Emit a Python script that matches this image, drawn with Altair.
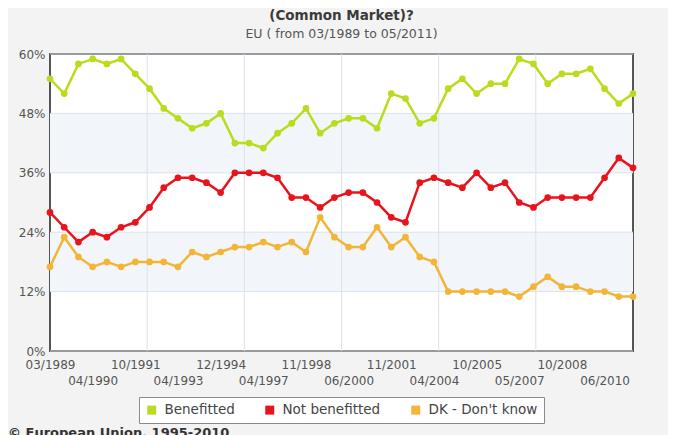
import altair as alt
import pandas as pd

# ---------------- data ----------------
title_line1 = "on balance benefitted or not from being a member of the European Community"
title_line2 = "(Common Market)?"
subtitle = "EU ( from 03/1989 to 05/2011)"
footer = "© European Union, 1995-2010"

dates = [
    "03/1989", "10/1989", "11/1989", "04/1990", "10/1990", "04/1991",
    "10/1991", "04/1992", "10/1992", "04/1993", "11/1993", "04/1994",
    "12/1994", "10/1995", "10/1996", "04/1997", "10/1997", "04/1998",
    "11/1998", "04/1999", "11/1999", "06/2000", "11/2000", "04/2001",
    "11/2001", "10/2002", "10/2003", "04/2004", "11/2004", "05/2005",
    "10/2005", "04/2006", "10/2006", "05/2007", "10/2007", "04/2008",
    "10/2008", "06/2009", "11/2009", "06/2010", "11/2010", "05/2011",
]
benefitted = [55, 52, 58, 59, 58, 59, 56, 53, 49, 47, 45, 46, 48, 42, 42, 41,
              44, 46, 49, 44, 46, 47, 47, 45, 52, 51, 46, 47, 53, 55, 52, 54,
              54, 59, 58, 54, 56, 56, 57, 53, 50, 52]
not_benefitted = [28, 25, 22, 24, 23, 25, 26, 29, 33, 35, 35, 34, 32, 36, 36, 36,
                  35, 31, 31, 29, 31, 32, 32, 30, 27, 26, 34, 35, 34, 33, 36, 33,
                  34, 30, 29, 31, 31, 31, 31, 35, 39, 37]
dont_know = [17, 23, 19, 17, 18, 17, 18, 18, 18, 17, 20, 19, 20, 21, 21, 22,
             21, 22, 20, 27, 23, 21, 21, 25, 21, 23, 19, 18, 12, 12, 12, 12,
             12, 11, 13, 15, 13, 13, 12, 12, 11, 11]

series_names = ["Benefitted", "Not benefitted", "DK - Don't know"]
series_colors = ["#b9dc1c", "#e8131b", "#f3b537"]
y_ticks = [0, 12, 24, 36, 48, 60]
band_lo = [12, 36]
band_hi = [24, 48]

# ---------------- tables ----------------
rows = []
for i, d in enumerate(dates):
    for name, vals in zip(series_names, [benefitted, not_benefitted, dont_know]):
        rows.append({"i": i, "date": d, "series": name, "value": vals[i]})
df = pd.DataFrame(rows)

n = len(dates)
xgrid_df = pd.DataFrame({"i": [(n - 1) * k / 6 for k in range(1, 6)]})
ygrid_df = pd.DataFrame({"value": y_ticks})
band_df = pd.DataFrame({"value": band_lo, "hi": band_hi})

FONT = "DejaVu Sans"
W, H = 583, 297

xscale = alt.Scale(domain=[0, n - 1], nice=False, zero=False)
yscale = alt.Scale(domain=[0, 60], nice=False)

lookup = "[" + ",".join("'" + d + "'" for d in dates) + "]"
label_expr = (f"datum.value % 6 == 0 ? {lookup}[datum.value] : "
              f"['', {lookup}[datum.value]]")

xaxis = alt.Axis(values=list(range(0, n, 3)), labelExpr=label_expr, grid=False,
                 ticks=False, domain=False, labelFontSize=12, labelColor="#555555",
                 labelFont=FONT, labelPadding=8, labelLineHeight=16,
                 labelOverlap=False, labelFlush=False, title=None)
yaxis = alt.Axis(values=y_ticks, labelExpr="datum.value + '%'", grid=False,
                 ticks=False, domain=False, labelFontSize=12, labelColor="#555555",
                 labelFont=FONT, labelPadding=5, title=None)

X = alt.X("i:Q", scale=xscale, axis=xaxis)
Y = alt.Y("value:Q", scale=yscale, axis=yaxis)

color_scale = alt.Scale(domain=series_names, range=series_colors)
legend = alt.Legend(orient="none", legendX=89, legendY=343,
                    direction="horizontal", title=None,
                    symbolType="square", symbolSize=81,
                    symbolStrokeWidth=0, symbolOpacity=1, labelFontSize=13.5,
                    labelColor="#444444", labelFont=FONT,
                    strokeColor="#8a8a8a", fillColor="white",
                    padding=6, columnPadding=28, labelOffset=6,
                    cornerRadius=0)
C = alt.Color("series:N", scale=color_scale, sort=series_names, legend=legend)

bands = alt.Chart(band_df).mark_rect(color="#f2f6fa").encode(y=Y, y2="hi:Q")

ygrid = alt.Chart(ygrid_df).mark_rule(color="#dbe2ea", strokeWidth=1).encode(y=Y)

xgrid = alt.Chart(xgrid_df).mark_rule(color="#dbe2ea", strokeWidth=1).encode(x=X)

lines = alt.Chart(df).mark_line(strokeWidth=2.5).encode(x=X, y=Y, color=C)

points = alt.Chart(df).mark_point(filled=True, size=45, opacity=1).encode(
    x=X, y=Y, color=C)

def text_layer(txt, x, y, size, weight, color, align="center"):
    return alt.Chart(pd.DataFrame({"t": [txt]})).mark_text(
        font=FONT, fontSize=size, fontWeight=weight, color=color, align=align,
        baseline="alphabetic").encode(text="t:N", x=alt.value(x), y=alt.value(y))

t1 = text_layer(title_line1, W / 2, -50.5, 13.5, "bold", "#3a3a3a")
t2 = text_layer(title_line2, W / 2, -34.5, 13.5, "bold", "#3a3a3a")
t3 = text_layer(subtitle, W / 2, -16, 12.5, "normal", "#555555")
t4 = text_layer(footer, -42, 383, 13, "bold", "#333333", align="left")

chart = alt.layer(bands, ygrid, xgrid, lines, points, t1, t2, t3, t4).properties(
    width=W, height=H,
    autosize=alt.AutoSizeParams(type="none"),
    padding={"left": 42, "top": 46, "right": 35, "bottom": 84},
    background="#f3f3f3",
).configure_view(fill="white", stroke="#555555", strokeWidth=2)

chart.save("out.html", embed_options={"renderer": "svg", "actions": False})
